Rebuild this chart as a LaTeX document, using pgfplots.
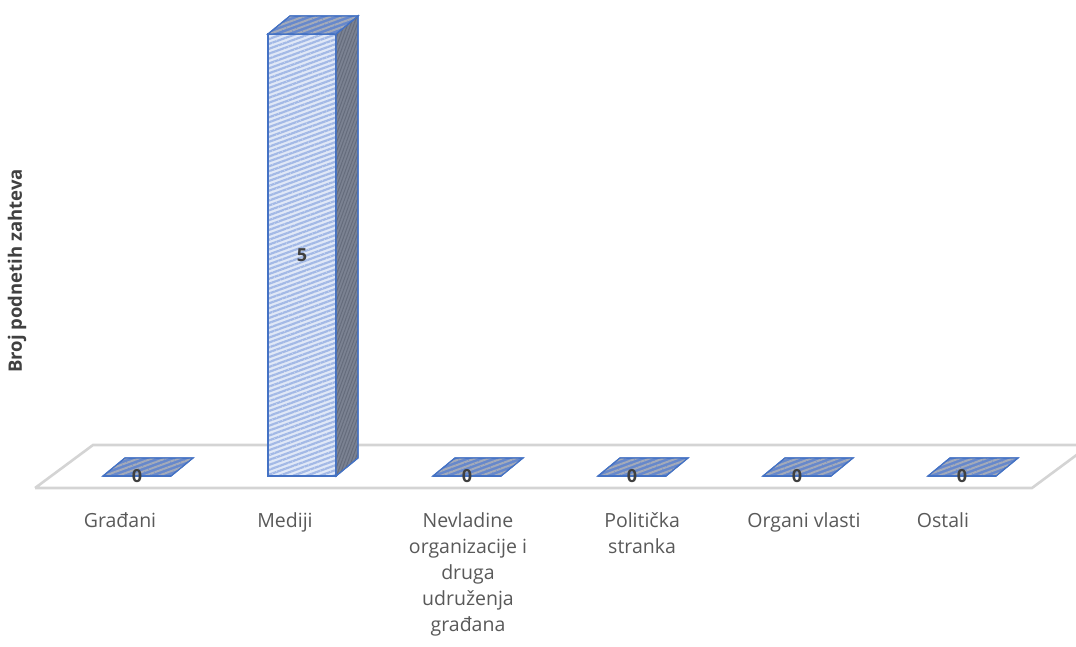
\documentclass[border=0pt]{standalone}
\usepackage{fontspec}
\setmainfont{Open Sans}
\usepackage{pgfplots}
\pgfplotsset{compat=1.18}
\usetikzlibrary{patterns.meta}

\definecolor{edgeblue}{HTML}{4472C4}
\definecolor{frontbase}{HTML}{E0E8F7}
\definecolor{frontline}{HTML}{A3B9E6}
\definecolor{sidebase}{HTML}{7B8292}
\definecolor{sideline}{HTML}{656C7C}
\definecolor{topbase}{HTML}{6688CC}
\definecolor{topline}{HTML}{A3AAB9}
\definecolor{floorgray}{HTML}{D4D4D4}
\definecolor{ticktext}{HTML}{595959}
\definecolor{labeltext}{HTML}{404040}

\begin{document}
\begin{tikzpicture}

\begin{axis}[
scale only axis,
width=1076pt, height=646pt,
xmin=-0.830303, xmax=5.690909,
ymin=-1.92308, ymax=5.38462,
enlargelimits=false,
axis line style={draw=none},
tick style={draw=none},
ytick=\empty,
xtick={-0.103,0.897,2.006,3.061,4.042,4.885},
xticklabels={Građani,Mediji,{Nevladine\\organizacije i\\druga\\udruženja\\građana},{Politička\\stranka},Organi vlasti,Ostali},
xticklabel style={align=center, anchor=north, inner sep=0pt, yshift=134pt,
  font=\fontsize{19.5}{26}\selectfont, text=ticktext},
ylabel={Broj podnetih zahteva},
ylabel style={at={(rel axis cs:0.0158,0.5805)}, anchor=center,
  font=\fontsize{18.5}{22}\selectfont\bfseries, text=labeltext},
]

% floor
\addplot [floorgray, line width=2.6pt, no markers] coordinates {
(-0.618,-0.1357) (5.424,-0.1357) (5.776,0.3507) (-0.2667,0.3507) (-0.618,-0.1357)
};

% top faces of the zero bars
\addplot [draw=edgeblue, line width=1.2pt, fill=topbase,
  postaction={pattern={Lines[angle=20,distance=4.6pt,line width=2pt]}, pattern color=topline}]
  coordinates {(-0.206,0) (0.206,0) (0.339,0.2036) (-0.073,0.2036)} -- cycle;
\addplot [draw=edgeblue, line width=1.2pt, fill=topbase,
  postaction={pattern={Lines[angle=20,distance=4.6pt,line width=2pt]}, pattern color=topline}]
  coordinates {(1.794,0) (2.206,0) (2.339,0.2036) (1.927,0.2036)} -- cycle;
\addplot [draw=edgeblue, line width=1.2pt, fill=topbase,
  postaction={pattern={Lines[angle=20,distance=4.6pt,line width=2pt]}, pattern color=topline}]
  coordinates {(2.794,0) (3.206,0) (3.339,0.2036) (2.927,0.2036)} -- cycle;
\addplot [draw=edgeblue, line width=1.2pt, fill=topbase,
  postaction={pattern={Lines[angle=20,distance=4.6pt,line width=2pt]}, pattern color=topline}]
  coordinates {(3.794,0) (4.206,0) (4.339,0.2036) (3.927,0.2036)} -- cycle;
\addplot [draw=edgeblue, line width=1.2pt, fill=topbase,
  postaction={pattern={Lines[angle=20,distance=4.6pt,line width=2pt]}, pattern color=topline}]
  coordinates {(4.794,0) (5.206,0) (5.339,0.2036) (4.927,0.2036)} -- cycle;

% front faces
\addplot [ybar, bar width=0.4121, draw=edgeblue, line width=1.2pt, fill=frontbase,
  postaction={pattern={Lines[angle=20,distance=4.6pt,line width=2.2pt]}, pattern color=frontline}]
  coordinates {(0,0) (1,5) (2,0) (3,0) (4,0) (5,0)};

% side and top of the Mediji bar
\addplot [draw=edgeblue, line width=1.2pt, fill=sidebase,
  postaction={pattern={Lines[angle=70,distance=3pt,line width=1pt]}, pattern color=sideline}]
  coordinates {(1.206,0) (1.339,0.2036) (1.339,5.2036) (1.206,5)} -- cycle;
\addplot [draw=edgeblue, line width=1.2pt, fill=topbase,
  postaction={pattern={Lines[angle=20,distance=4.6pt,line width=2pt]}, pattern color=topline}]
  coordinates {(0.794,5) (1.206,5) (1.339,5.2036) (0.927,5.2036)} -- cycle;

% value labels
\addplot [draw=none, no markers, point meta=explicit,
  nodes near coords={\pgfmathprintnumber[assume math mode=true]{\pgfplotspointmeta}},
  nodes near coords style={anchor=center, inner sep=0pt,
    font=\fontsize{18}{21}\selectfont\bfseries, text=labeltext}]
  coordinates {(0,0) [0] (1,2.5) [5] (2,0) [0] (3,0) [0] (4,0) [0] (5,0) [0]};

\end{axis}

\end{tikzpicture}
\end{document}
